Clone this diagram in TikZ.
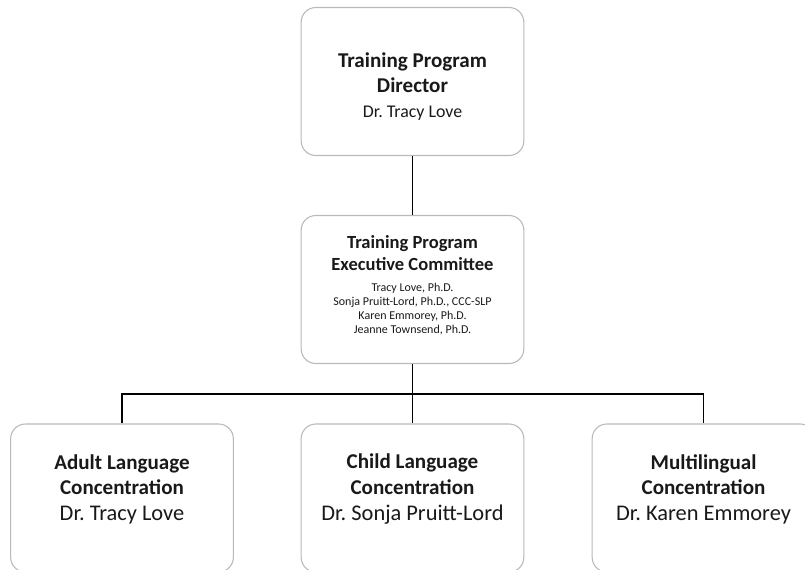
\documentclass[tikz,border=0pt]{standalone}
\usepackage{fontspec}
\setmainfont{Carlito}
\usepackage{xcolor}
\usepackage{tikz}

\definecolor{boxgray}{RGB}{185,185,185}
\definecolor{inkgray}{RGB}{25,25,25}

\begin{document}
\frenchspacing
\begin{tikzpicture}[x=0.75pt, y=-0.75pt,
    orgbox/.style={draw=boxgray, line width=0.8pt, rounded corners=11pt,
        minimum width=167pt, minimum height=111pt, inner sep=0pt},
    orgtext/.style={align=center, text=inkgray, inner sep=0pt},
    orgline/.style={draw=black, line width=1.1pt}]
    % Rahmen
    \useasboundingbox (0,0) rectangle (805,569);
    \clip (0,0) rectangle (805,569);

    % Oberste Ebene
    \node[orgbox] (dir) at (412.5, 81.5) {};
    \node[orgtext, font=\fontsize{15.8}{18.5}\selectfont] (dirtxt) at (412.5, 86.5)
        {\bfseries Training Program\\
         \bfseries Director\\
         \fontsize{13.4}{18.5}\selectfont Dr. Tracy Love};

    % Zweite Ebene
    \node[orgbox] (comm) at (412.5, 289.5) {};
    \node[orgtext, font=\fontsize{13.9}{16.4}\selectfont\bfseries] (commtitle) at (412.5, 253)
        {Training Program\\ Executive Committee};
    \node[orgtext, font=\fontsize{9}{10.3}\selectfont] (commnames) at (412.5, 309)
        {Tracy Love, Ph.D.\\
         Sonja Pruitt-Lord, Ph.D., CCC-SLP\\
         Karen Emmorey, Ph.D.\\
         Jeanne Townsend, Ph.D.};

    % Dritte Ebene
    \node[orgbox] (adult) at (122, 498) {};
    \node[orgbox] (child) at (412.5, 498) {};
    \node[orgbox] (multi) at (703.5, 498) {};
    \node[orgtext, font=\fontsize{15.8}{19.2}\selectfont] (adulttxt) at (122, 489)
        {\bfseries Adult Language\\
         \bfseries Concentration\\
         \fontsize{16.8}{19.2}\selectfont Dr. Tracy Love};
    \node[orgtext, font=\fontsize{15.8}{19.2}\selectfont] (childtxt) at (412.5, 489)
        {\bfseries Child Language\\
         \bfseries Concentration\\
         \fontsize{16.8}{19.2}\selectfont Dr. Sonja Pruitt-Lord};
    \node[orgtext, font=\fontsize{15.8}{19.2}\selectfont] (multitxt) at (703.5, 489)
        {\bfseries Multilingual\\
         \bfseries Concentration\\
         \fontsize{16.8}{19.2}\selectfont Dr. Karen Emmorey};

    % Verbindungen
    \coordinate (split) at (412.5, 394);
    \draw[orgline] (dir.south) -- (comm.north);
    \draw[orgline] (comm.south) -- (split);
    \draw[orgline] (split) -| (adult.north);
    \draw[orgline] (split) -| (multi.north);
    \draw[orgline] (split) -- (child.north);
\end{tikzpicture}
\end{document}
